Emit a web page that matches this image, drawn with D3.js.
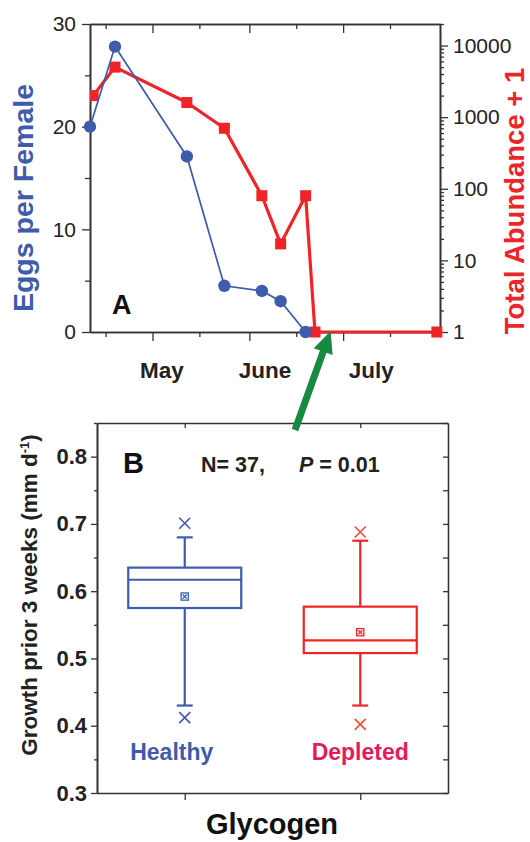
<!DOCTYPE html>
<html><head><meta charset="utf-8">
<script src="https://cdn.jsdelivr.net/npm/d3@7"></script>
<style>
body{margin:0;background:#fff}
svg{display:block}
text{font-family:"Liberation Sans",Arial,Helvetica,sans-serif}
</style>
</head><body>
<script>
// ---------- DATA ----------
const eggDates = ["2010-04-11","2010-04-19","2010-05-12","2010-05-24","2010-06-05","2010-06-11","2010-06-19"];
const eggValues = [20, 27.8, 17.1, 4.5, 4.0, 3.0, 0];
const abundDates = ["2010-04-12","2010-04-19","2010-05-12","2010-05-24","2010-06-05","2010-06-11","2010-06-19","2010-06-22","2010-07-31"];
const abundValues = [2000, 5000, 1600, 700, 80, 17, 80, 1, 1];
const monthLabels = ["May","June","July"];
const monthLabelDates = ["2010-05-04","2010-06-06","2010-07-10"];
const monthStartDates = ["2010-05-01","2010-06-01","2010-07-01"];
const midMonthDates = ["2010-04-16","2010-05-16","2010-06-16","2010-07-16"];
const eggTicks = [0,10,20,30];
const eggMinorTicks = [5,15,25];
const abundTicks = [1,10,100,1000,10000];

const groups = ["Healthy","Depleted"];
const whiskerLow = [0.43, 0.43];
const boxLow = [0.575, 0.508];
const medians = [0.617, 0.527];
const boxHigh = [0.635, 0.577];
const whiskerHigh = [0.68, 0.675];
const means = [0.592, 0.539];
const outlierLow = [0.412, 0.402];
const outlierHigh = [0.701, 0.688];
const growthTicks = [0.3,0.4,0.5,0.6,0.7,0.8];
const growthMinorTicks = [0.35,0.45,0.55,0.65,0.75,0.85];

// ---------- STYLE ----------
const BLUE = "#3f5bab", RED = "#ee2428", PINK = "#e5195c", ORANGE = "#ef4d3a", GREEN = "#178a41";
const AX = "#333", TXT = "#222";

const W = 530, H = 842;
const svg = d3.select("body").append("svg").attr("width", W).attr("height", H);
const parse = d3.timeParse("%Y-%m-%d");

// ---------- PANEL A ----------
const A = {l:90, r:440, t:24, b:332};
const x = d3.scaleTime().domain([parse("2010-04-11"), parse("2010-08-01")]).range([A.l, A.r]);
const yEgg = d3.scaleLinear().domain([0,30]).range([A.b, A.t]);
const yAb = d3.scaleLog().domain([1,20000]).range([A.b, A.t]);

function styleAxis(g, fs, bold){
  g.selectAll(".domain").attr("stroke", AX).attr("stroke-width", 1.6);
  g.selectAll(".tick line").attr("stroke", AX).attr("stroke-width", 1.3);
  g.selectAll(".tick text").attr("fill", TXT).style("font-size", fs + "px")
    .style("font-weight", bold ? "bold" : "normal")
    .style("font-family", '"Liberation Sans",Arial,sans-serif');
}

const gA = svg.append("g");
gA.append("g").attr("transform", `translate(${A.l},0)`)
  .call(d3.axisLeft(yEgg).tickValues(eggMinorTicks).tickSize(5).tickFormat("").tickSizeOuter(0))
  .call(g => styleAxis(g, 21));
gA.append("g").attr("transform", `translate(${A.l},0)`)
  .call(d3.axisLeft(yEgg).tickValues(eggTicks).tickSize(8).tickPadding(6).tickSizeOuter(0))
  .call(g => styleAxis(g, 21));

const abMinor = [];
for (let k = 0; k <= 4; k++) for (let m = 2; m <= 9; m++) { const v = m * Math.pow(10,k); if (v <= 20000) abMinor.push(v); }
gA.append("g").attr("transform", `translate(${A.r},0)`)
  .call(d3.axisRight(yAb).tickValues(abMinor).tickSize(4).tickFormat("").tickSizeOuter(0))
  .call(g => styleAxis(g, 21));
gA.append("g").attr("transform", `translate(${A.r},0)`)
  .call(d3.axisRight(yAb).tickValues(abundTicks).tickSize(8).tickPadding(5).tickFormat(d3.format("d")).tickSizeOuter(0))
  .call(g => styleAxis(g, 21));

gA.append("g").attr("transform", `translate(0,${A.t})`)
  .call(d3.axisTop(x).tickValues(midMonthDates.map(parse)).tickSize(-5).tickFormat("").tickSizeOuter(0))
  .call(g => styleAxis(g, 21));
gA.append("g").attr("transform", `translate(0,${A.t})`)
  .call(d3.axisTop(x).tickValues(monthStartDates.map(parse)).tickSize(-9).tickFormat("").tickSizeOuter(0))
  .call(g => styleAxis(g, 21));
gA.append("g").attr("transform", `translate(0,${A.b})`)
  .call(d3.axisBottom(x).tickValues(midMonthDates.map(parse)).tickSize(5).tickFormat("").tickSizeOuter(0))
  .call(g => styleAxis(g, 21));
gA.append("g").attr("transform", `translate(0,${A.b})`)
  .call(d3.axisBottom(x).tickValues(monthStartDates.map(parse)).tickSize(9).tickFormat("").tickSizeOuter(0))
  .call(g => styleAxis(g, 21));

gA.selectAll("text.month").data(monthLabels).join("text").attr("class","month")
  .attr("x", (d,i) => x(parse(monthLabelDates[i]))).attr("y", 378)
  .attr("text-anchor","middle").attr("fill", TXT)
  .style("font-size","22.5px").style("font-weight","bold").text(d => d);

svg.append("clipPath").attr("id","clipA").append("rect")
  .attr("x", A.l).attr("y", A.t - 10).attr("width", A.r - A.l + 10).attr("height", A.b - A.t + 20);

const abData = abundDates.map((d,i) => ({x: parse(d), y: abundValues[i]}));
const eggData = eggDates.map((d,i) => ({x: parse(d), y: eggValues[i]}));

const series = gA.append("g").attr("clip-path","url(#clipA)");
series.append("path").datum(abData)
  .attr("fill","none").attr("stroke", RED).attr("stroke-width", 3.2).attr("stroke-linejoin","round")
  .attr("d", d3.line().x(d => x(d.x)).y(d => yAb(d.y)));
series.selectAll("rect.ab").data(abData).join("rect").attr("class","ab")
  .attr("x", d => x(d.x) - 5.5).attr("y", d => yAb(d.y) - 5.5)
  .attr("width", 11).attr("height", 11).attr("fill", RED);

gA.append("path").datum(eggData)
  .attr("fill","none").attr("stroke", BLUE).attr("stroke-width", 1.7)
  .attr("d", d3.line().x(d => x(d.x)).y(d => yEgg(d.y)));
gA.selectAll("circle.egg").data(eggData).join("circle").attr("class","egg")
  .attr("cx", d => x(d.x)).attr("cy", d => yEgg(d.y)).attr("r", 6.2).attr("fill", BLUE);

gA.append("text").attr("x", 112).attr("y", 314).attr("fill", "#111")
  .style("font-size","27px").style("font-weight","bold").text("A");

gA.append("text").attr("transform", `translate(33,198) rotate(-90)`)
  .attr("text-anchor","middle").attr("fill", BLUE)
  .style("font-size","28.5px").style("font-weight","bold").text("Eggs per Female");
gA.append("text").attr("transform", `translate(524,201) rotate(-90)`)
  .attr("text-anchor","middle").attr("fill", RED)
  .style("font-size","27.5px").style("font-weight","bold").text("Total Abundance + 1");

// ---------- PANEL B ----------
const B = {l:97, r:448, t:423, b:793};
const xB = d3.scalePoint().domain(groups).range([B.l, B.r]).padding(0.5);
const yG = d3.scaleLinear().domain([0.3, 0.85]).range([B.b, B.t]);
const gB = svg.append("g");

gB.append("g").attr("transform", `translate(${B.l},0)`)
  .call(d3.axisLeft(yG).tickValues(growthMinorTicks).tickSize(3).tickFormat("").tickSizeOuter(0))
  .call(g => styleAxis(g, 22, true));
gB.append("g").attr("transform", `translate(${B.l},0)`)
  .call(d3.axisLeft(yG).tickValues(growthTicks).tickSize(6).tickPadding(4).tickFormat(d3.format(".1f")).tickSizeOuter(0))
  .call(g => styleAxis(g, 22, true));
gB.append("g").attr("transform", `translate(${B.r},0)`)
  .call(d3.axisRight(yG).tickValues(growthTicks.concat(growthMinorTicks)).tickSize(-5).tickFormat("").tickSizeOuter(0))
  .call(g => styleAxis(g, 22, true));
gB.append("g").attr("transform", `translate(0,${B.t})`)
  .call(d3.axisTop(xB).tickSize(-5).tickFormat("").tickSizeOuter(0))
  .call(g => styleAxis(g, 22, true));
gB.append("g").attr("transform", `translate(0,${B.b})`)
  .call(d3.axisBottom(xB).tickSize(7).tickFormat("").tickSizeOuter(0))
  .call(g => styleAxis(g, 22, true));

const boxColors = [BLUE, RED];
const outColors = [BLUE, ORANGE];
const boxW = 113, capW = 16;
groups.forEach((gname, i) => {
  const cx = xB(gname), c = boxColors[i];
  const gg = gB.append("g").attr("stroke", c).attr("fill","none").attr("stroke-width", 2.2);
  gg.append("line").attr("x1", cx).attr("x2", cx).attr("y1", yG(whiskerLow[i])).attr("y2", yG(boxLow[i]));
  gg.append("line").attr("x1", cx).attr("x2", cx).attr("y1", yG(boxHigh[i])).attr("y2", yG(whiskerHigh[i]));
  gg.append("line").attr("x1", cx - capW/2).attr("x2", cx + capW/2).attr("y1", yG(whiskerLow[i])).attr("y2", yG(whiskerLow[i]));
  gg.append("line").attr("x1", cx - capW/2).attr("x2", cx + capW/2).attr("y1", yG(whiskerHigh[i])).attr("y2", yG(whiskerHigh[i]));
  gg.append("rect").attr("x", cx - boxW/2).attr("y", yG(boxHigh[i]))
    .attr("width", boxW).attr("height", yG(boxLow[i]) - yG(boxHigh[i]));
  gg.append("line").attr("x1", cx - boxW/2).attr("x2", cx + boxW/2).attr("y1", yG(medians[i])).attr("y2", yG(medians[i]));
  const my = yG(means[i]), s = 3.6;
  const mg = gB.append("g").attr("stroke", c).attr("fill","none").attr("stroke-width", 1.3);
  mg.append("rect").attr("x", cx - s).attr("y", my - s).attr("width", 2*s).attr("height", 2*s);
  mg.append("path").attr("d", `M${cx-s+1.5},${my-s+1.5}L${cx+s-1.5},${my+s-1.5}M${cx-s+1.5},${my+s-1.5}L${cx+s-1.5},${my-s+1.5}`);
  [outlierLow[i], outlierHigh[i]].forEach(v => {
    const oy = yG(v), o = 5.5;
    gB.append("path").attr("stroke", outColors[i]).attr("stroke-width", 1.6).attr("fill","none")
      .attr("d", `M${cx-o},${oy-o}L${cx+o},${oy+o}M${cx-o},${oy+o}L${cx+o},${oy-o}`);
  });
});

gB.append("text").attr("x", xB("Healthy") - 13).attr("y", 760).attr("text-anchor","middle")
  .attr("fill", BLUE).style("font-size","23px").style("font-weight","bold").text("Healthy");
gB.append("text").attr("x", xB("Depleted")).attr("y", 760).attr("text-anchor","middle")
  .attr("fill", PINK).style("font-size","23px").style("font-weight","bold").text("Depleted");

gB.append("text").attr("x", 123).attr("y", 473).attr("fill","#111")
  .style("font-size","29px").style("font-weight","bold").text("B");
gB.append("text").attr("x", 201).attr("y", 472).attr("fill", TXT)
  .style("font-size","21.5px").style("font-weight","bold").text("N= 37,");
const pt = gB.append("text").attr("x", 299).attr("y", 472).attr("fill", TXT)
  .style("font-size","21.5px").style("font-weight","bold");
pt.append("tspan").style("font-style","italic").text("P");
pt.append("tspan").text(" = 0.01");

const yl = gB.append("text").attr("transform", `translate(37,595) rotate(-90)`)
  .attr("text-anchor","middle").attr("fill", TXT)
  .style("font-size","22.5px").style("font-weight","bold");
yl.append("tspan").text("Growth prior 3 weeks (mm d");
yl.append("tspan").attr("dy", -8).style("font-size","13px").text("-1");
yl.append("tspan").attr("dy", 8).text(")");

gB.append("text").attr("x", 272).attr("y", 834).attr("text-anchor","middle").attr("fill","#111")
  .style("font-size","29px").style("font-weight","bold").text("Glycogen");

// ---------- ARROW (annotation) ----------
const arrowDate = parse("2010-06-27");
const tip = [x(arrowDate), yEgg(0) - 1];
const tail = [295, yG(0.85) + 7];
const dx = tip[0] - tail[0], dy = tip[1] - tail[1], len = Math.hypot(dx, dy);
const ux = dx/len, uy = dy/len, px = -uy, py = ux;
const headL = 22, headW = 10;
const base = [tip[0] - ux*headL, tip[1] - uy*headL];
svg.append("line").attr("x1", tail[0]).attr("y1", tail[1]).attr("x2", base[0] + ux*2).attr("y2", base[1] + uy*2)
  .attr("stroke", GREEN).attr("stroke-width", 7);
svg.append("path").attr("fill", GREEN)
  .attr("d", `M${tip[0]},${tip[1]}L${base[0]+px*headW},${base[1]+py*headW}L${base[0]-px*headW},${base[1]-py*headW}Z`);
</script>
</body></html>
